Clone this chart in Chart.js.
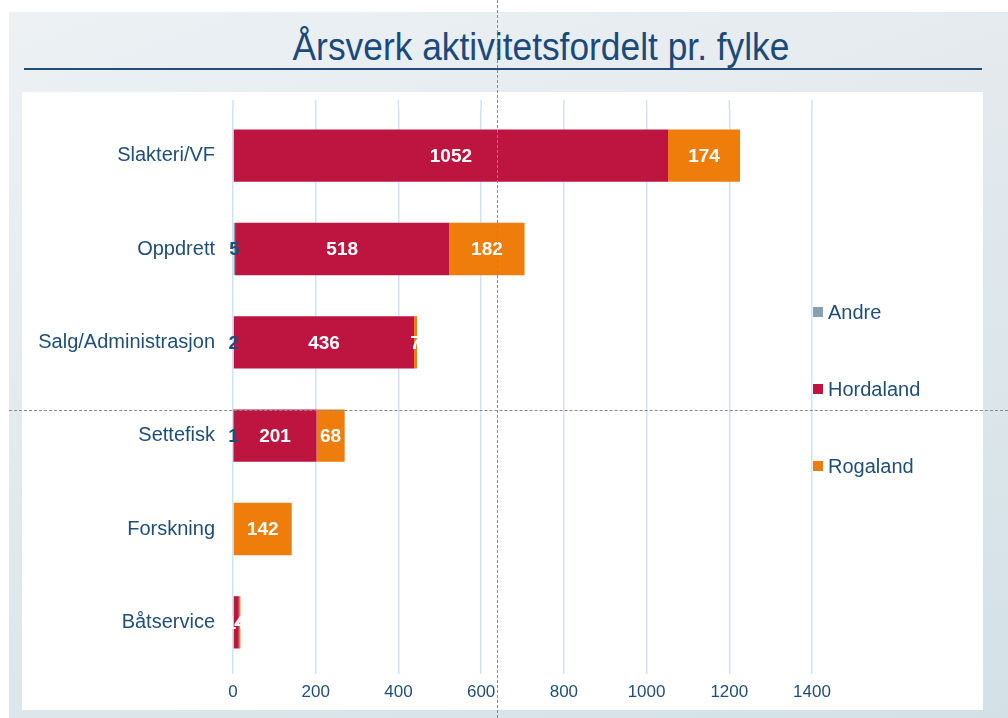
<!DOCTYPE html>
<html>
<head>
<meta charset="utf-8">
<script src="https://cdn.jsdelivr.net/npm/chart.js@4/dist/chart.umd.min.js"></script>
<style>
  html, body { margin: 0; padding: 0; width: 1008px; height: 718px; background: #fff; overflow: hidden; }
  .slide {
    position: absolute; left: 9px; top: 12px; width: 999px; height: 706px;
    background: linear-gradient(160deg, #edf1f4 0%, #e2e9ed 45%, #d3e1e7 100%);
  }
  .title {
    position: absolute; left: 62px; width: 958px; top: 25px; text-align: center;
    font-family: "Liberation Sans", Arial, sans-serif;
    font-size: 38px; line-height: 44px; color: #1b4a7a;
    transform: scaleX(0.93); transform-origin: 479px 0;
  }
  .rule { position: absolute; left: 24px; width: 958px; top: 68px; height: 2px; background: #1f4e79; }
  .panel { position: absolute; left: 22px; top: 92px; width: 961px; height: 618px; background: #fff; }
  .guide-v { position: absolute; left: 497px; top: 0; height: 718px; width: 0; border-left: 1px dashed #8a8a8a; }
  .guide-h { position: absolute; left: 9px; top: 410px; width: 999px; height: 0; border-top: 1px dashed #8a8a8a; }
</style>
</head>
<body>
<div class="slide"></div>
<div class="title">Årsverk aktivitetsfordelt pr. fylke</div>
<div class="rule"></div>
<div class="panel"><canvas id="chart" width="961" height="618"></canvas></div>
<div class="guide-v"></div>
<div class="guide-h"></div>
<script>
const categories = ['Slakteri/VF', 'Oppdrett', 'Salg/Administrasjon', 'Settefisk', 'Forskning', 'Båtservice'];
const andre = [0, 5, 2, 1, 0, 0];
const hordaland = [1052, 518, 436, 201, 0, 14];
const rogaland = [174, 182, 7, 68, 142, 4];
const xTicks = [0, 200, 400, 600, 800, 1000, 1200, 1400];

const TEXT = '#1f4e79';
const GRID = '#cfe3f5';
const FONT = '"Liberation Sans", Arial, sans-serif';

// value labels in the middle of each segment
const barLabels = {
    id: 'barLabels',
    afterDatasetsDraw(chart) {
        const ctx = chart.ctx;
        ctx.save();
        ctx.font = 'bold 19px ' + FONT;
        ctx.textAlign = 'center';
        ctx.textBaseline = 'middle';
        chart.data.datasets.forEach((ds, i) => {
            chart.getDatasetMeta(i).data.forEach((bar, j) => {
                const v = ds.data[j];
                if (!v) return;
                ctx.fillStyle = ds.labelColor;
                ctx.fillText(v, (bar.x + bar.base) / 2, bar.y + 1);
            });
        });
        ctx.restore();
    }
};

// grid lines run a bit above the plot area
const gridTop = {
    id: 'gridTop',
    beforeDatasetsDraw(chart) {
        const ctx = chart.ctx;
        const sx = chart.scales.x;
        ctx.save();
        ctx.strokeStyle = GRID;
        ctx.lineWidth = 1.5;
        sx.ticks.forEach(t => {
            const x = sx.getPixelForValue(t.value);
            ctx.beginPath();
            ctx.moveTo(x, chart.chartArea.top - 9);
            ctx.lineTo(x, chart.chartArea.top);
            ctx.stroke();
        });
        ctx.restore();
    }
};

// legend sits over the right edge of the plot
const sideLegend = {
    id: 'sideLegend',
    afterDraw(chart) {
        const ctx = chart.ctx;
        const area = chart.chartArea;
        const mid = (area.top + area.bottom) / 2;
        ctx.save();
        ctx.font = '20px ' + FONT;
        ctx.textBaseline = 'middle';
        chart.data.datasets.forEach((ds, i) => {
            const y = mid + (i - 1) * 77;
            ctx.fillStyle = ds.backgroundColor;
            ctx.fillRect(area.right + 1, y - 5, 10, 10);
            ctx.fillStyle = TEXT;
            ctx.fillText(ds.label, area.right + 16, y + 1);
        });
        ctx.restore();
    }
};

new Chart(document.getElementById('chart'), {
    type: 'bar',
    data: {
        labels: categories,
        datasets: [
            { label: 'Andre', data: andre, backgroundColor: '#86a1b0', labelColor: TEXT },
            { label: 'Hordaland', data: hordaland, backgroundColor: '#bd1540', labelColor: '#fff' },
            { label: 'Rogaland', data: rogaland, backgroundColor: '#ee7d0b', labelColor: '#fff' }
        ]
    },
    options: {
        indexAxis: 'y',
        responsive: false,
        animation: false,
        categoryPercentage: 0.8,
        barPercentage: 0.7,
        layout: { padding: { top: 17, right: 171, bottom: 9, left: 0 } },
        plugins: { legend: { display: false }, tooltip: { enabled: false } },
        scales: {
            x: {
                stacked: true,
                min: 0,
                max: 1400,
                afterBuildTicks: (s) => { s.ticks = xTicks.map(v => ({ value: v })); },
                afterFit: (s) => { s.height = 32; },
                grid: { color: GRID, lineWidth: 1.5, tickLength: 5, drawTicks: true },
                border: { display: false },
                ticks: { color: TEXT, font: { family: FONT, size: 17 }, padding: 8, callback: (v) => String(v) }
            },
            y: {
                stacked: true,
                afterFit: (s) => { s.width = 211; s.paddingTop = 0; s.paddingBottom = 0; },
                grid: { display: false },
                border: { display: false },
                ticks: { color: TEXT, font: { family: FONT, size: 20 }, padding: 10 }
            }
        }
    },
    plugins: [barLabels, gridTop, sideLegend]
});
</script>
</body>
</html>
